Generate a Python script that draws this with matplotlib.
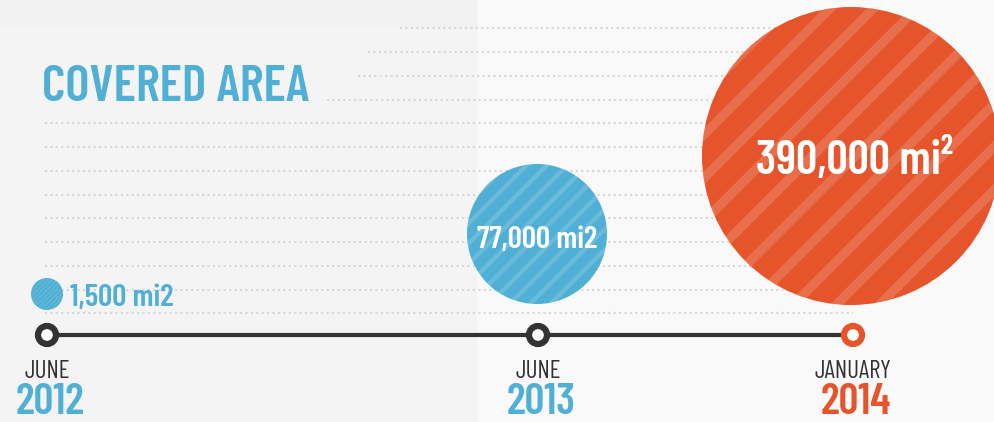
import numpy as np
import matplotlib
matplotlib.use('Agg')
import matplotlib.pyplot as plt
from matplotlib import font_manager as fm
from matplotlib.patches import Circle, Rectangle

# data
months = ['JUNE', 'JUNE', 'JANUARY']
years = ['2012', '2013', '2014']
areas = [1500, 77000, 390000]
area_labels = ['1,500 mi2', '77,000 mi2', '390,000 mi²']

# layout (pixels)
date_x = [47, 538, 853]
bubble_xy = [(47, 294), (537, 234), (851, 156)]
bubble_r = [16, 70, 149]
BLUE = '#4fafd4'
ORANGE = '#e5542a'
DARK = '#333333'
bubble_col = [BLUE, BLUE, ORANGE]
year_col = [BLUE, BLUE, ORANGE]

# pick a condensed font that is installed
installed = set(f.name for f in fm.fontManager.ttflist)
cond = None
for name in ['Barlow Condensed', 'Roboto Condensed', 'Oswald', 'PT Sans Narrow',
             'Fjalla One', 'DejaVu Sans']:
    if name in installed:
        cond = name
        break
plt.rcParams['font.family'] = [cond, 'DejaVu Sans']

W, H = 995, 422
fig = plt.figure(figsize=(W / 100, H / 100), dpi=100)
ax = fig.add_axes([0, 0, 1, 1])
ax.set_xlim(0, W)
ax.set_ylim(H, 0)
ax.axis('off')

# background
ax.add_patch(Rectangle((0, 0), W, H, color='#f9f9f9', zorder=0))
ax.add_patch(Rectangle((0, 0), 476, H, color='#f4f4f4', zorder=0))
ax.add_patch(Rectangle((0, 0), 476, 27, color='#f1f2f1', zorder=0))

# dotted guide lines
line_y = 28.3 + 23.75 * np.arange(13)
line_start = [400, 368, 358, 327] + [45] * 9
for y, x0 in zip(line_y, line_start):
    ax.plot([x0, 853], [y, y], color='#d6d6d6', lw=1.5,
            linestyle=(0, (1, 1.6)), zorder=1)

ax.text(42, 83, 'COVERED AREA', color=BLUE, fontsize=37, fontweight=600,
        va='center_baseline', ha='left', zorder=3)

# timeline
ax.plot([date_x[0], date_x[-1]], [335, 335], color=DARK, lw=3, zorder=2,
        solid_capstyle='butt')
for i, x in enumerate(date_x):
    ec = ORANGE if i == 2 else DARK
    ax.add_patch(Circle((x, 335), 9, fc='white', ec=ec, lw=4.5, zorder=4))
    ax.text(x, 369, months[i], color=DARK, fontsize=18, ha='center',
            va='center_baseline', zorder=4)
    ax.text(x + 3, 399, years[i], color=year_col[i], fontsize=31.5,
            fontweight=600, ha='center', va='center_baseline', zorder=4)

# bubbles with diagonal stripes
for (cx, cy), r, c in zip(bubble_xy, bubble_r, bubble_col):
    circ = Circle((cx, cy), r, fc=c, ec='none', zorder=3)
    ax.add_patch(circ)
    gap = r * 0.29
    lw = max(r * 0.045, 0.6)
    for k in np.arange(-2 * r, 2 * r, gap):
        ln, = ax.plot([cx + k - r, cx + k + r], [cy + r, cy - r],
                      color='white', alpha=0.16, lw=lw, zorder=3.5)
        ln.set_clip_path(circ)

ax.text(70, 295, area_labels[0], color=BLUE, fontsize=22.5, fontweight=600,
        ha='left', va='center_baseline', zorder=5)
ax.text(bubble_xy[1][0], bubble_xy[1][1] + 3, area_labels[1], color='white',
        fontsize=22.5, fontweight=600, ha='center', va='center_baseline', zorder=5)
ax.text(bubble_xy[2][0] + 3, bubble_xy[2][1], area_labels[2], color='white',
        fontsize=34, fontweight=600, ha='center', va='center_baseline', zorder=5)

fig.savefig('out.png', dpi=100)
